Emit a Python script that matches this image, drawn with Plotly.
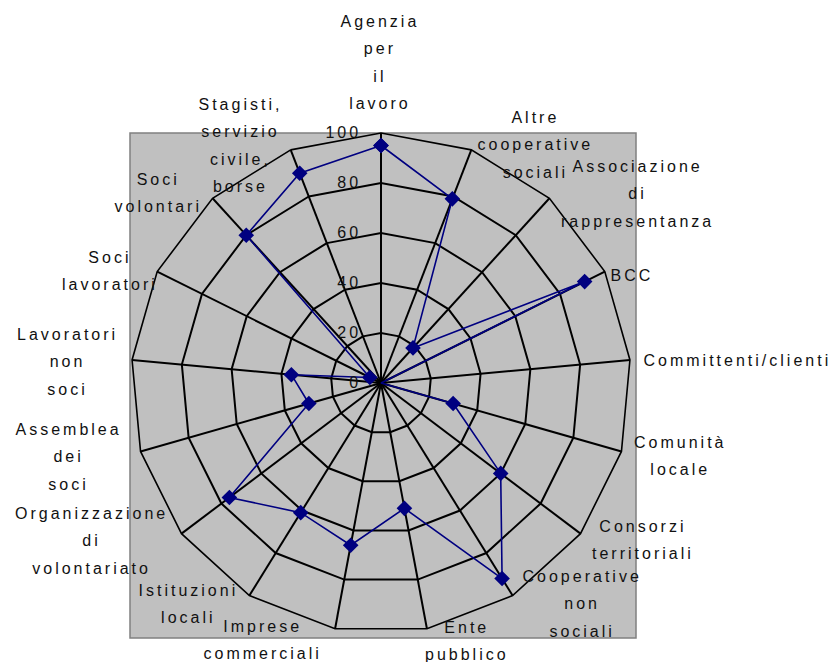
import plotly.graph_objects as go

categories = [
    "Agenzia per il lavoro",
    "Altre cooperative sociali",
    "Associazione di rappresentanza",
    "BCC",
    "Committenti/clienti",
    "Comunità locale",
    "Consorzi territoriali",
    "Cooperative non sociali",
    "Ente pubblico",
    "Imprese commerciali",
    "Istituzioni locali",
    "Organizzazione di volontariato",
    "Assemblea dei soci",
    "Lavoratori non soci",
    "Soci lavoratori",
    "Soci volontari",
    "Stagisti, servizio civile, borse",
]
values = [95, 79, 19, 91, 0, 30, 60, 92, 51, 66, 61, 76, 30, 36, 5, 80, 90]
radial_ticks = [0, 20, 40, 60, 80, 100]

# label centres in page pixels (layout only)
label_pos = [
    (380, 62), (535, 145), (637, 194), (632, 275), (737, 361), (680, 456),
    (643, 540), (582, 604), (467, 641), (262, 640), (188, 604), (91, 541),
    (68, 457), (67, 362), (110, 271), (158, 193), (241, 145),
]

FONT = "Liberation Sans, Arial, sans-serif"
W, H = 837, 662

fig = go.Figure()
fig.add_trace(go.Scatterpolar(
    r=values + values[:1],
    theta=categories + categories[:1],
    mode="lines+markers",
    line=dict(color="#000080", width=1.6),
    marker=dict(symbol="diamond", size=12, color="#000080"),
    showlegend=False,
))

fig.add_shape(type="rect", xref="paper", yref="paper",
              x0=130 / W, x1=636 / W, y0=(H - 638) / H, y1=(H - 133) / H,
              fillcolor="#C0C0C0", line=dict(color="#808080", width=1.5),
              layer="below")

for name, (px, py) in zip(categories, label_pos):
    lines = name.split(" ")
    txt = "<br>".join("<span style='font-size:16px'>%s</span>" % w for w in lines)
    fig.add_annotation(
        x=px / W, y=1 - py / H, xref="paper", yref="paper",
        text=txt, showarrow=False, xanchor="center", yanchor="middle",
        align="center", font=dict(family=FONT, size=21, color="#111111"),
    )

fig.update_layout(
    width=W, height=H,
    margin=dict(l=0, r=0, t=0, b=0),
    paper_bgcolor="white",
    plot_bgcolor="white",
    font=dict(family=FONT, size=16, color="#111111"),
    polar=dict(
        domain=dict(x=[131 / W, 631 / W], y=[(H - 633) / H, (H - 133) / H]),
        bgcolor="#C0C0C0",
        gridshape="linear",
        angularaxis=dict(
            direction="clockwise", rotation=90,
            showline=True, linecolor="black", linewidth=1.6,
            gridcolor="black", gridwidth=1.6,
            ticks="", showticklabels=False,
        ),
        radialaxis=dict(
            range=[0, 100], tickvals=radial_ticks, angle=90, tickangle=90,
            showline=False, gridcolor="black", gridwidth=1.6,
            ticks="", tickfont=dict(family=FONT, size=16, color="#111111"),
            side="counterclockwise",
        ),
    ),
)

post = """
document.body.style.margin = '0';
var gd = document.getElementById('{plot_id}');
function ls(){
  document.querySelectorAll('.main-svg text').forEach(function(t){ t.style.letterSpacing = '3px'; });
  document.querySelectorAll('.radial-axis text').forEach(function(t){
    var p = t.parentNode;
    if (p && !p.classList.contains('radial-axis')) { p.setAttribute('transform', 'translate(0,-17)'); }
  });
}
ls();
gd.on('plotly_afterplot', ls);
"""
fig.write_html("out.html", post_script=post, config={"displayModeBar": False})
